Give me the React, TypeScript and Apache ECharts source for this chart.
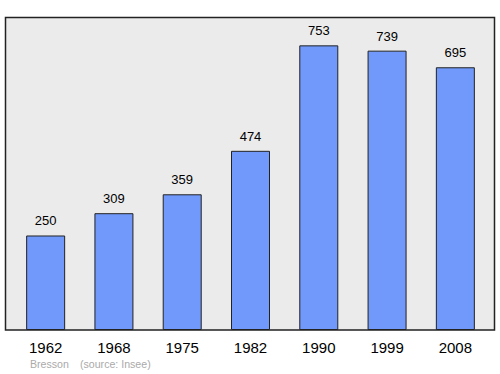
import React, { useEffect, useRef } from "react";
import * as echarts from "echarts";

const years = ["1962", "1968", "1975", "1982", "1990", "1999", "2008"];
const population = [250, 309, 359, 474, 753, 739, 695];
const townName = "Bresson";
const sourceText = "(source: Insee)";

const FONT = "'Liberation Sans', Arial, sans-serif";

export default function App() {
  const ref = useRef<HTMLDivElement>(null);
  useEffect(() => {
    const chart = echarts.init(ref.current!, null, { renderer: "svg" });
    chart.setOption({
      animation: false,
      backgroundColor: "#ffffff",
      graphic: [
        {
          type: "rect",
          z: -10,
          shape: { x: 5.5, y: 17.5, width: 489, height: 312.5 },
          style: { fill: "#ebebeb", stroke: "#222", lineWidth: 1.5 },
        },
        {
          type: "text",
          x: 30,
          y: 364,
          style: { text: townName, fill: "#aaaaaa", font: `10.6px ${FONT}`, verticalAlign: "middle" },
        },
        {
          type: "text",
          x: 80,
          y: 364,
          style: { text: sourceText, fill: "#aaaaaa", font: `10.6px ${FONT}`, verticalAlign: "middle" },
        },
      ],
      grid: { left: 11.5, right: 10.5, top: 17, bottom: 44 },
      xAxis: {
        type: "category",
        data: years,
        axisLine: { show: false },
        axisTick: { show: false },
        axisLabel: {
          color: "#000",
          fontSize: 15,
          fontFamily: FONT,
          margin: 10,
        },
      },
      yAxis: {
        type: "value",
        min: 0,
        max: 828,
        show: false,
        splitLine: { show: false },
      },
      series: [
        {
          type: "bar",
          data: population,
          barWidth: 39,
          itemStyle: { color: "#7099fb", borderColor: "#222", borderWidth: 1 },
          label: {
            show: true,
            position: "top",
            distance: 8,
            color: "#000",
            fontSize: 13,
            fontFamily: FONT,
          },
        },
      ],
    });
    return () => chart.dispose();
  }, []);
  return <div ref={ref} style={{ position: "fixed", left: 0, top: 0, width: 500, height: 374 }} />;
}
